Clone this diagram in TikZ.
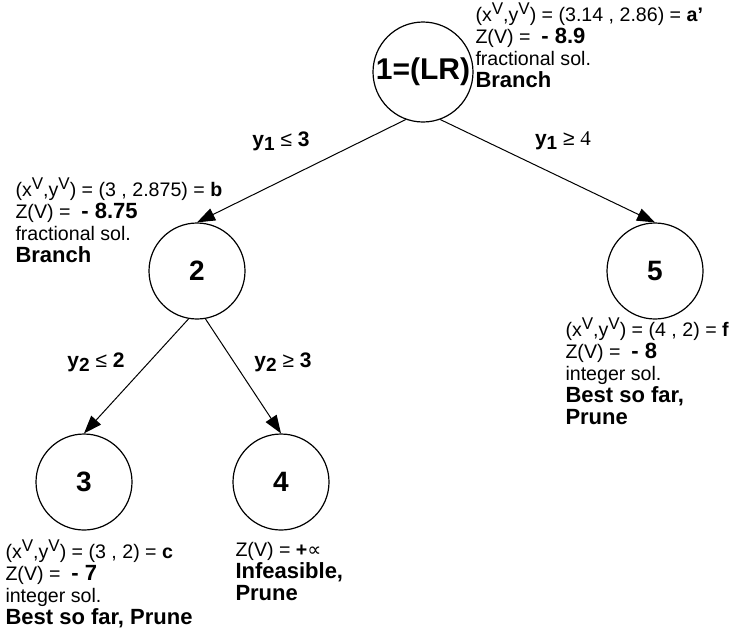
\documentclass[tikz,border=0pt]{standalone}
\usepackage{fontspec}
\setmainfont{Liberation Sans}
\newfontfamily\symfont{DejaVu Sans}
\newfontfamily\cutfont{Liberation Serif}
\usetikzlibrary{arrows.meta}

% text styles for the tree
\newcommand{\supV}{\raisebox{0.75ex}{\fontsize{8.5}{8.5}\selectfont V}}
\newcommand{\xy}{(x\supV,y\supV)}
\newcommand{\ysub}[1]{\textbf{y\raisebox{-0.35ex}{\fontsize{9.5}{9.5}\selectfont #1}}}
\newcommand{\bbtext}[1]{{\fontsize{11}{11}\selectfont\bfseries #1}}

\tikzset{
    vertex/.style = {draw, circle, line width=0.6pt, minimum size=48pt,
        inner sep=0pt, font=\fontsize{14}{14}\selectfont\bfseries},
    info/.style = {anchor=north west, align=left, inner sep=0pt,
        font=\fontsize{9.8}{11}\selectfont},
    cut/.style = {font=\fontsize{10.5}{12}\selectfont}
}

\begin{document}
\begin{tikzpicture}[%
        x = 0.5pt,
        y = -0.5pt,
        > = {Triangle[length=9pt, width=6.5pt]},
        line width = 0.5pt
    ]

        \useasboundingbox (0,0) rectangle (742,638);

        % The nodes of the branching tree.
        \node[vertex, minimum size=50pt, font=\fontsize{15}{15}\selectfont\bfseries]
            (n1) at (423,72) {1=(LR)};
        \node[vertex] (n2) at (197,271) {2};
        \node[vertex] (n5) at (655,271) {5};
        \node[vertex] (n3) at (84,482) {3};
        \node[vertex] (n4) at (281,482) {4};

        % Branches with their cuts.
        \draw[->] (n1.-110) -- (n2.north);
        \draw[->] (n1.-70) -- (n5.north);
        \draw[->] (n2.-100) -- (n3.north);
        \draw[->] (n2.-80) -- (n4.north);

        \node[cut] (c2) at (281,141) {\ysub{1} ≤ \textbf{3}};
        \node[cut] (c5) at (563,141) {\ysub{1} ≥ {\cutfont 4}};
        \node[cut] (c3) at (96,362) {\ysub{2} ≤ \textbf{2}};
        \node[cut] (c4) at (283,362) {\ysub{2} ≥ \textbf{3}};

        % Values at every node.
        \node[info] (la) at (475,2) {\xy{} = (3.14 , 2.86) = \textbf{a'}\\
            Z(V) = \ \bbtext{- 8.9}\\
            fractional sol.\\
            \bbtext{Branch}};
        \node[info] (lb) at (15,177) {\xy{} = (3 , 2.875) = \textbf{b}\\
            Z(V) = \ \bbtext{- 8.75}\\
            fractional sol.\\
            \bbtext{Branch}};
        \node[info] (lf) at (565,317) {\xy{} = (4 , 2) = \textbf{f}\\
            Z(V) = \ \bbtext{- 8}\\
            integer sol.\\
            \bbtext{Best so far,}\\
            \bbtext{Prune}};
        \node[info] (lc) at (5,539) {\xy{} = (3 , 2) = \textbf{c}\\
            Z(V) = \ \bbtext{- 7}\\
            integer sol.\\
            \bbtext{Best so far, Prune}};
        \node[info] (ld) at (235,542) {Z(V) = \textbf{+}{\symfont\char"221D}\\
            \bbtext{Infeasible,}\\
            \bbtext{Prune}};
    \end{tikzpicture}
\end{document}
